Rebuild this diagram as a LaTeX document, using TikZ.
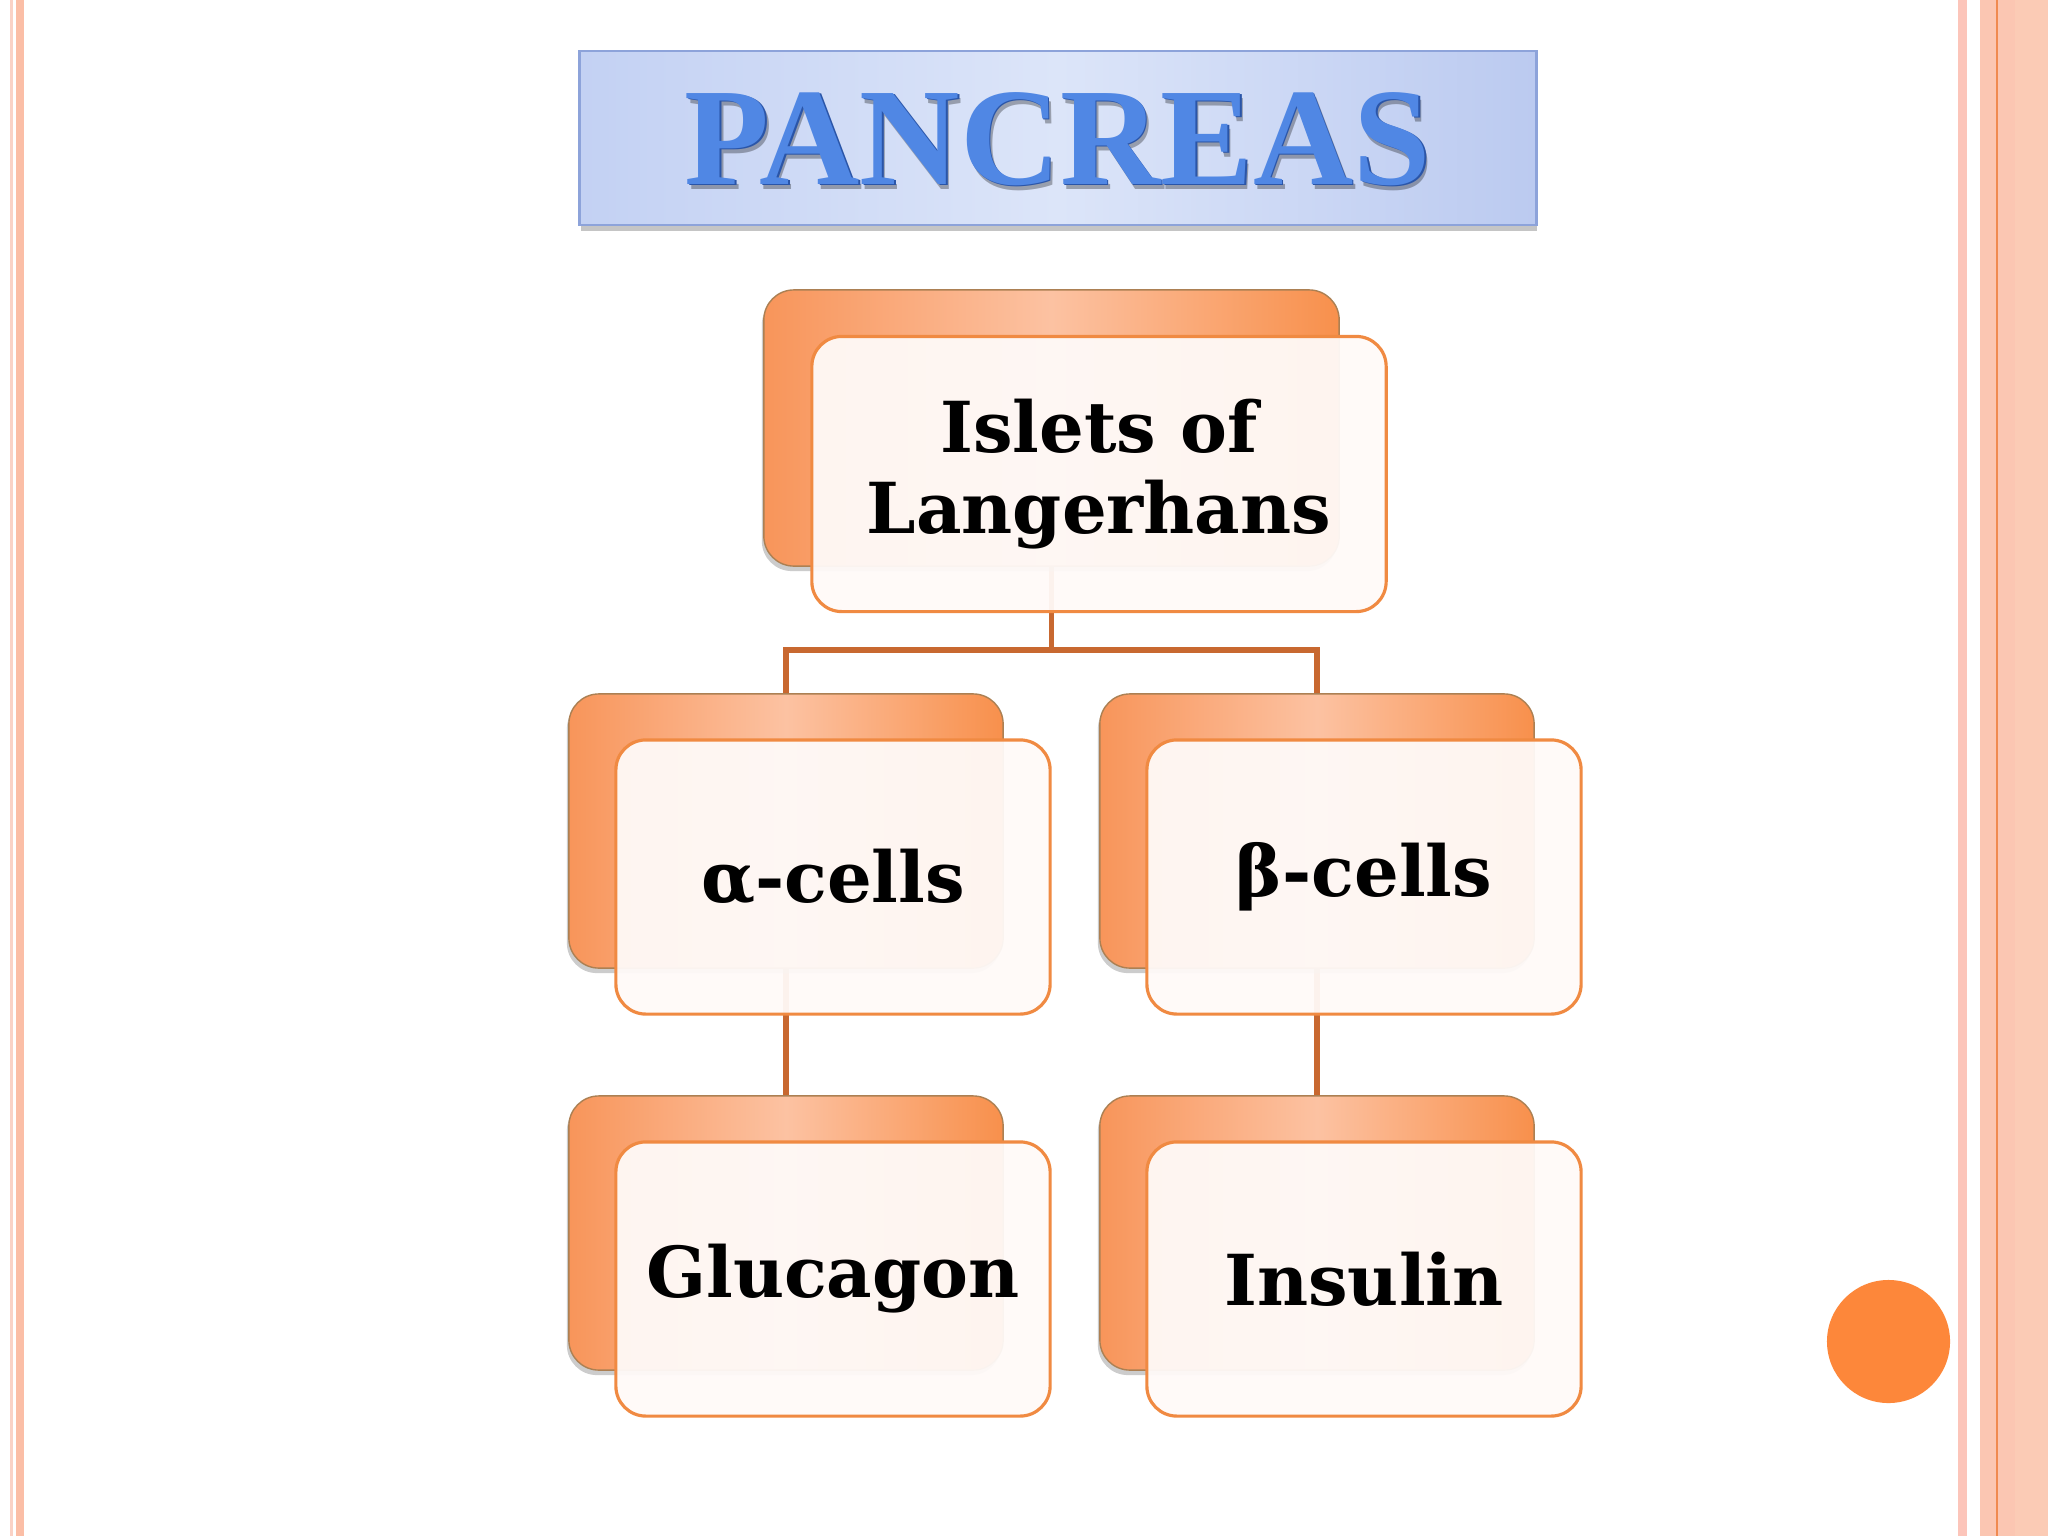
\documentclass[tikz,border=0pt]{standalone}
\usepackage{fontspec}
\setmainfont{DejaVu Serif}
\newfontfamily\titlefont{Liberation Serif}
\usetikzlibrary{shadows,calc}
\definecolor{backL}{HTML}{F8955A}
\definecolor{backM}{HTML}{FCC2A2}
\definecolor{backR}{HTML}{F8904C}
\definecolor{frontline}{HTML}{F08A42}
\definecolor{frontfill}{HTML}{FFFAF8}
\definecolor{connc}{HTML}{C86830}
\definecolor{titleL}{HTML}{C3D1F3}
\definecolor{titleM}{HTML}{DCE5F9}
\definecolor{titleR}{HTML}{BBCAF0}
\definecolor{titleline}{HTML}{8DA3DA}
\definecolor{titleblue}{HTML}{5087E4}
\definecolor{titledark}{HTML}{2A55A8}
\definecolor{stripA}{HTML}{FCC5BA}
\definecolor{stripB}{HTML}{FBC6B2}
\definecolor{stripC}{HTML}{FBCBB5}
\definecolor{stripLine}{HTML}{F08A50}
\definecolor{stripL1}{HTML}{FAD2C6}
\definecolor{stripL2}{HTML}{FBBEA6}
\definecolor{dotc}{HTML}{FD873A}
\pgfdeclarelayer{paper}
\pgfdeclarelayer{bg}
\pgfsetlayers{paper,bg,main}
\newcommand{\boxfont}{\fontsize{20}{23}\selectfont\bfseries}
\begin{document}
\begin{tikzpicture}[x=0.01cm,y=-0.01cm,
  backbox/.style={rounded corners=0.3cm, minimum width=4.34cm, minimum height=2.74cm,
    draw=brown!70!gray, line width=0.4pt, left color=backL, right color=backR, middle color=backM,
    inner sep=0pt,
    drop shadow={shadow xshift=-0.02cm, shadow yshift=-0.05cm, opacity=0.4, fill=gray}},
  frontbox/.style={rounded corners=0.3cm, minimum width=4.34cm, minimum height=2.74cm,
    draw=frontline, line width=0.9pt, fill=frontfill, fill opacity=0.95, text opacity=1,
    font=\boxfont, align=center, inner sep=0pt},
  conn/.style={draw=connc, line width=1.6pt},
  titlebox/.style={minimum width=9.56cm, minimum height=1.74cm, draw=titleline, line width=0.8pt,
    left color=titleL, right color=titleR, middle color=titleM, inner sep=0pt,
    drop shadow={shadow xshift=0.01cm, shadow yshift=-0.06cm, opacity=0.45, fill=gray}},
  titletext/.style={font=\titlefont\bfseries\fontsize{39.5}{40}\selectfont, inner sep=0pt}
]
\useasboundingbox (0,0) rectangle (2048,1536);
\begin{pgfonlayer}{paper}
\fill[white] (0,0) rectangle (2048,1536);
% left border strips
\fill[stripL1] (10,0) rectangle (13,1536);
\fill[stripL2] (16,0) rectangle (24,1536);
% right border strips
\fill[stripA] (1958,0) rectangle (1967,1536);
\fill[stripB] (1980,0) rectangle (2015,1536);
\fill[stripC] (2015,0) rectangle (2048,1536);
\fill[stripLine] (1996,0) rectangle (1997.5,1536);
\end{pgfonlayer}
% orange dot
\fill[dotc] (1888.5,1341.5) circle[radius=0.615cm];
% title
\node[titlebox] (title) at (1058,138) {};
\node[titletext, text=black, opacity=0.3] (tshadow) at (1061,144) {PANCREAS};
\node[titletext, text=titledark] (tdark) at (1059.5,140.5) {PANCREAS};
\node[titletext, text=titleblue] (ttext) at (1058,139) {PANCREAS};
% back boxes
\node[backbox, minimum width=5.75cm, minimum height=2.76cm] (topB) at (1051.5,428) {};
\node[backbox] (alB) at (786,831) {};
\node[backbox] (beB) at (1317,831) {};
\node[backbox] (glB) at (786,1233) {};
\node[backbox] (inB) at (1317,1233) {};
% front boxes
\node[frontbox, minimum width=5.74cm, minimum height=2.75cm] (topF) at (1099,474) {Islets of\\Langerhans};
\node[frontbox] (alF) at (833,877) {α-cells};
\node[frontbox] (beF) at (1364,877) {β-cells};
\node[frontbox] (glF) at (833,1279) {Glucagon};
\node[frontbox] (inF) at (1364,1279) {Insulin};
% connectors
\coordinate (jn) at (1051.5,650);
\begin{pgfonlayer}{bg}
\draw[conn] (topB.south) -- (jn);
\draw[conn] (jn) -| (alB.north);
\draw[conn] (jn) -| (beB.north);
\draw[conn] (alB.south) -- (glB.north);
\draw[conn] (beB.south) -- (inB.north);
\end{pgfonlayer}
\end{tikzpicture}
\end{document}
